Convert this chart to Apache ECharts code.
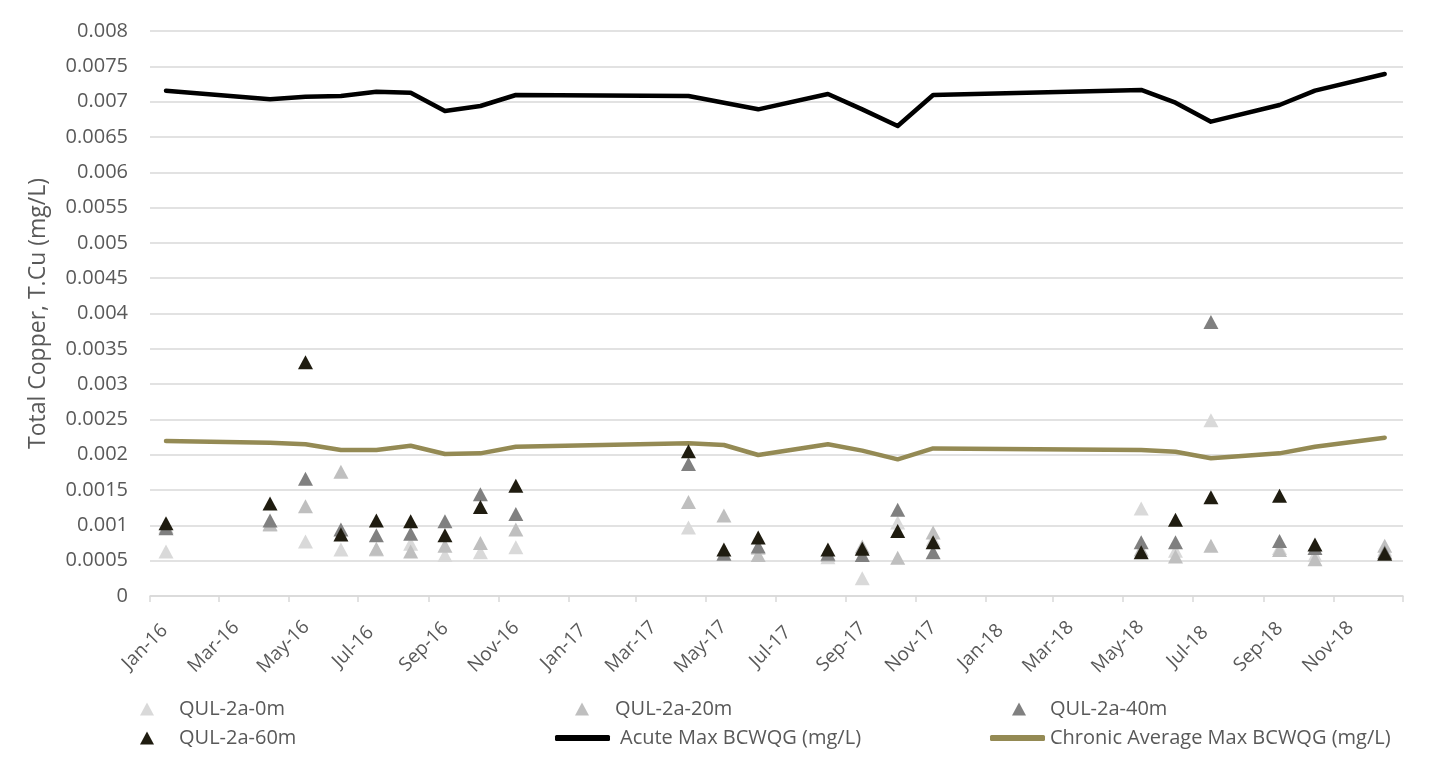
<!DOCTYPE html>
<html>
<head>
<meta charset="utf-8">
<script src="https://cdn.jsdelivr.net/npm/echarts@6/dist/echarts.min.js"></script>
<style>
  html, body { margin: 0; padding: 0; background: #fff; }
  #chart { width: 1437px; height: 764px; }
</style>
</head>
<body>
<div id="chart"></div>
<script>
// sampling dates (shared by all series)
const sampleDates = [
  "2016-01-15", "2016-04-15", "2016-05-16", "2016-06-16", "2016-07-17", "2016-08-16",
  "2016-09-15", "2016-10-16", "2016-11-16", "2017-04-16", "2017-05-17", "2017-06-16",
  "2017-08-16", "2017-09-15", "2017-10-16", "2017-11-16", "2018-05-17", "2018-06-16",
  "2018-07-17", "2018-09-15", "2018-10-16", "2018-12-16"
];

const qul0m = [0.00063, 0.00101, 0.00077, 0.00066, 0.00066, 0.00074, 0.00058, 0.00062, 0.00069, 0.00097, 0.00060,
  0.00068, 0.00055, 0.00025, 0.00104, 0.00080, 0.00124, 0.00064, 0.00249, 0.00068, 0.00058, 0.00066];
const qul20m = [0.00098, 0.00102, 0.00127, 0.00176, 0.00067, 0.00063, 0.00071, 0.00075, 0.00094, 0.00133, 0.00114,
  0.00058, 0.00058, 0.00070, 0.00054, 0.00090, 0.00066, 0.00056, 0.00071, 0.00065, 0.00052, 0.00071];
const qul40m = [0.00096, 0.00107, 0.00166, 0.00094, 0.00086, 0.00088, 0.00106, 0.00144, 0.00116, 0.00187, 0.00060,
  0.00070, 0.00060, 0.00058, 0.00122, 0.00062, 0.00076, 0.00076, 0.00388, 0.00078, 0.00068, 0.00062];
const qul60m = [0.00103, 0.00131, 0.00331, 0.00087, 0.00107, 0.00106, 0.00086, 0.00126, 0.00156, 0.00205, 0.00066,
  0.00083, 0.00066, 0.00067, 0.00092, 0.00076, 0.00062, 0.00108, 0.00140, 0.00142, 0.00073, 0.00060];

const acuteMax = [0.007155, 0.007032, 0.00707, 0.00708, 0.00714, 0.007127, 0.006867, 0.006938, 0.007094, 0.00708, 0.006985,
  0.006891, 0.007108, 0.00689, 0.006655, 0.007094, 0.007165, 0.006985, 0.006716, 0.006952, 0.007155, 0.007391];
const chronicAvg = [0.002195, 0.00217, 0.002148, 0.002067, 0.002067, 0.002128, 0.00201, 0.00202, 0.002114, 0.002162, 0.002138,
  0.001996, 0.002148, 0.002058, 0.001935, 0.00209, 0.002067, 0.002043, 0.00195, 0.00202, 0.002114, 0.002242];

// x tick labels every two months, axis ends Jan 2019
const tickDates = [
  "2016-01-01", "2016-03-01", "2016-05-01", "2016-07-01", "2016-09-01", "2016-11-01",
  "2017-01-01", "2017-03-01", "2017-05-01", "2017-07-01", "2017-09-01", "2017-11-01",
  "2018-01-01", "2018-03-01", "2018-05-01", "2018-07-01", "2018-09-01", "2018-11-01"
];
const axisEnd = "2019-01-01";
const monthNames = ["Jan", "Feb", "Mar", "Apr", "May", "Jun", "Jul", "Aug", "Sep", "Oct", "Nov", "Dec"];

const toTs = (d) => Date.parse(d + "T00:00:00Z");
const pairs = (vals) => sampleDates.map((d, i) => [toTs(d), vals[i]]);

const FONT = "'Open Sans', sans-serif";
const TXT = "#595959";
const GRID = "#d9d9d9";

const chart = echarts.init(document.getElementById("chart"));

const scatter = (name, vals, color) => ({
  name,
  type: "scatter",
  data: pairs(vals),
  symbol: "triangle",
  symbolSize: [15, 14],
  itemStyle: { color, opacity: 1 },
  z: 3,
});

const line = (name, vals, color) => ({
  name,
  type: "line",
  data: pairs(vals),
  symbol: "none",
  lineStyle: { color, width: 4.5, cap: "round", join: "round" },
  itemStyle: { color },
  z: 2,
});

// one legend box per entry, laid out like the original two-row legend
const legendItem = (name, left, top, isLine, gap) => ({
  data: [name],
  left,
  top,
  icon: isLine ? "roundRect" : "triangle",
  itemWidth: isLine ? 55 : 14,
  itemHeight: isLine ? 6 : 13,
  itemGap: 0,
  textStyle: {
    fontFamily: FONT,
    fontSize: 20,
    color: TXT,
    padding: [0, 0, 0, gap],
  },
});

chart.setOption({
  animation: false,
  grid: { left: 150, right: 34, top: 31, bottom: 168 },
  legend: [
    legendItem("QUL-2a-0m", 135, 694, false, 20),
    legendItem("QUL-2a-20m", 570, 694, false, 21),
    legendItem("QUL-2a-40m", 1007, 694, false, 19),
    legendItem("QUL-2a-60m", 135, 723, false, 20),
    legendItem("Acute Max BCWQG (mg/L)", 550, 723, true, 5),
    legendItem("Chronic Average Max BCWQG (mg/L)", 985, 723, true, 0),
  ],
  xAxis: {
    type: "value",
    min: toTs(tickDates[0]),
    max: toTs(axisEnd),
    splitLine: { show: false },
    axisLine: { show: true, onZero: false, lineStyle: { color: GRID, width: 1.5 } },
    axisTick: {
      show: true,
      length: 6,
      customValues: tickDates.concat([axisEnd]).map(toTs),
      lineStyle: { color: GRID, width: 1.5 },
    },
    axisLabel: {
      customValues: tickDates.map(toTs),
      rotate: 45,
      align: "center",
      verticalAlign: "middle",
      margin: 46,
      padding: [0, 14, 0, 0],
      color: TXT,
      fontFamily: FONT,
      fontSize: 19,
      formatter: (v) => {
        const d = new Date(v);
        return monthNames[d.getUTCMonth()] + "-" + String(d.getUTCFullYear()).slice(2);
      },
    },
  },
  yAxis: {
    type: "value",
    min: 0,
    max: 0.008,
    interval: 0.0005,
    name: "Total Copper, T.Cu (mg/L)",
    nameLocation: "middle",
    nameGap: 100,
    nameTextStyle: { color: TXT, fontFamily: FONT, fontSize: 23 },
    axisLine: { show: false },
    axisTick: { show: false },
    splitLine: { lineStyle: { color: GRID, width: 1.5 } },
    axisLabel: {
      color: TXT,
      fontFamily: FONT,
      fontSize: 20,
      margin: 22,
      formatter: (v) => String(+v.toFixed(4)),
    },
  },
  series: [
    line("Acute Max BCWQG (mg/L)", acuteMax, "#000000"),
    line("Chronic Average Max BCWQG (mg/L)", chronicAvg, "#948a54"),
    scatter("QUL-2a-0m", qul0m, "#d9d9d9"),
    scatter("QUL-2a-20m", qul20m, "#bfbfbf"),
    scatter("QUL-2a-40m", qul40m, "#808080"),
    scatter("QUL-2a-60m", qul60m, "#1f1c10"),
  ],
});
</script>
</body>
</html>
